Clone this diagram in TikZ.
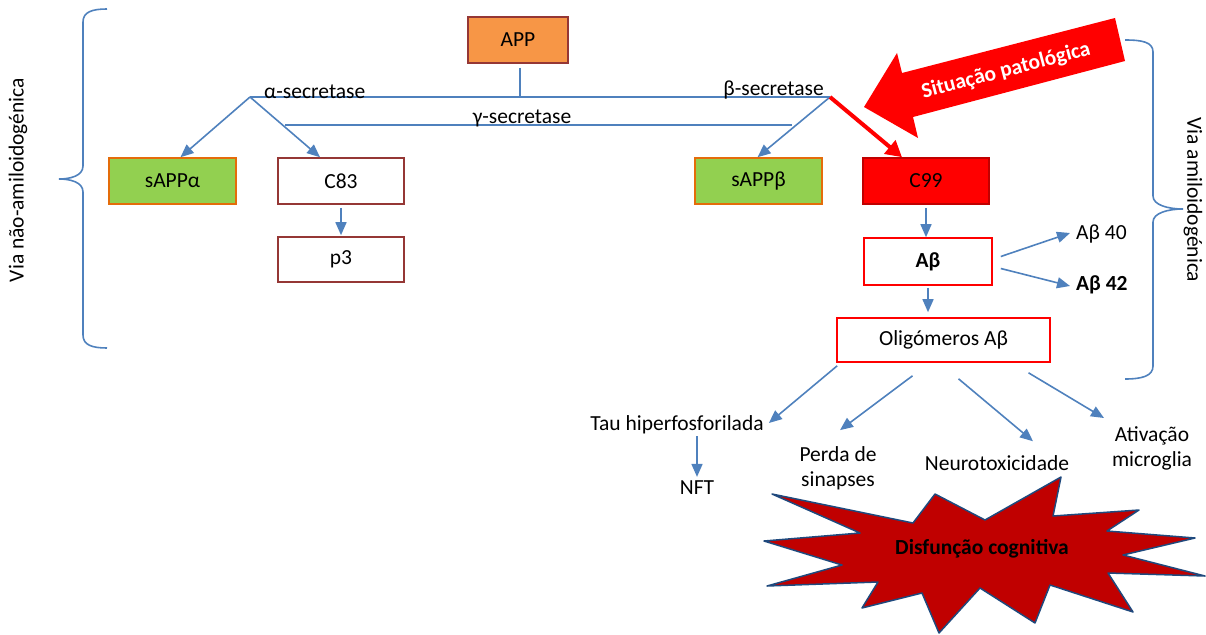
\documentclass[tikz,border=0pt]{standalone}
\usepackage{fontspec}
\setmainfont{Carlito}
\usetikzlibrary{arrows.meta,positioning}
\definecolor{lineColor}{HTML}{4F81BD}
\definecolor{boxBorder}{HTML}{953735}
\definecolor{appFill}{HTML}{F79646}
\definecolor{greenFill}{HTML}{92D050}
\definecolor{greenBorder}{HTML}{E46C0A}
\definecolor{starFill}{HTML}{C00000}
\definecolor{starBorder}{HTML}{1F497D}
\tikzset{>={Triangle[length=13pt,width=11pt]}}
\tikzset{
  box/.style={draw=boxBorder, line width=1.6pt, minimum width=126pt, minimum height=46pt, inner sep=0pt},
  greenbox/.style={box, draw=greenBorder, fill=greenFill},
  redbox/.style={box, draw=red},
  plain/.style={inner sep=2pt, align=center},
  line/.style={draw=lineColor, line width=1.6pt},
  flow/.style={line, ->},
  bold/.style={font=\fontsize{21.5}{25}\selectfont\bfseries},
}

\begin{document}
\begin{tikzpicture}[x=1pt, y=-1pt, font=\fontsize{21.5}{25}\selectfont]
\useasboundingbox (0,0) rectangle (1206,634);
% boxes
\node[box, fill=appFill, minimum width=100pt] (APP) at (518,40) {APP};
\node[greenbox, minimum width=127pt] (sAPPa) at (172.5,181) {sAPPα};
\node[box] (C83) at (341,181) {C83};
\node[box, minimum height=45pt] (p3) at (341,259.5) {p3};
\node[greenbox, minimum width=127pt] (sAPPb) at (758.5,181) {sAPPβ};
\node[box, fill=red, draw=starFill, text=black] (C99) at (926,181) {C99};
\node[redbox, bold, minimum width=128pt, minimum height=47pt] (Abeta) at (928,261.5) {Aβ};
\node[redbox, minimum width=213pt, minimum height=44pt] (Olig) at (943.5,340) {Oligómeros Aβ};
% secretase lines
\coordinate (alpha) at (250,97);
\coordinate (beta) at (830,97);
\coordinate (appfoot) at (520,97);
\coordinate (gammaL) at (285,125);
\coordinate (gammaR) at (792,125);
\draw[line] ([xshift=2pt,yshift=-4pt]APP.south) -- (appfoot);
\draw[line] (alpha) -- (beta);
\draw[line] (gammaL) -- (gammaR);
\node[plain, anchor=south west] (alab) at (262,101) {α-secretase};
\node[plain, anchor=south] (glab) at (522,129) {γ-secretase};
\node[plain, anchor=south east] (blab) at (826,101) {β-secretase};
\draw[flow] (alpha) -- ([xshift=8pt]sAPPa.north);
\draw[flow] (alpha) -- ([xshift=-21pt]C83.north);
\draw[flow] ([yshift=-3pt]C83.south) -- ([yshift=1pt]p3.north);
\draw[flow] (beta) -- ([xshift=-1pt]sAPPb.north);
\draw[red, line width=4pt, -{Triangle[length=16pt,width=17pt]}] (beta) -- ([xshift=-24pt]C99.north);
% amyloid cascade
\node[plain, anchor=west] (ab40) at (1074,234) {Aβ 40};
\node[plain, bold, anchor=west] (ab42) at (1074,285) {Aβ 42};
\draw[flow] ([yshift=-3pt]C99.south) -- ([xshift=-2pt]Abeta.north);
\draw[flow] ([xshift=8pt,yshift=5pt]Abeta.east) -- ([xshift=-4pt,yshift=1pt]ab40.west);
\draw[flow] ([xshift=8pt,yshift=-7pt]Abeta.east) -- ([xshift=-4pt,yshift=-1pt]ab42.west);
\draw[flow] ([yshift=-2pt]Abeta.south) -- ([xshift=-15.5pt,yshift=5pt]Olig.north);
% consequences
\node[plain] (tau) at (677,425) {Tau hiperfosforilada};
\node[plain] (NFT) at (697,488) {NFT};
\node[plain] (perda) at (838,468) {Perda de\\sinapses};
\node[plain] (neuro) at (997,463) {Neurotoxicidade};
\node[plain] (ativ) at (1152,448) {Ativação\\microglia};
\draw[flow] ([xshift=1pt,yshift=-3pt]Olig.south west) -- ([xshift=3pt,yshift=2pt]tau.east);
\draw[flow] ([xshift=-31pt,yshift=-13pt]Olig.south) -- ([xshift=2pt,yshift=14pt]perda.north);
\draw[flow] ([xshift=15pt,yshift=-16pt]Olig.south) -- ([xshift=36pt,yshift=12pt]neuro.north);
\draw[flow] ([xshift=85pt,yshift=-10pt]Olig.south) -- ([xshift=-48pt,yshift=6pt]ativ.north);
\draw[flow] (tau.south -| NFT.north) -- ([yshift=2pt]NFT.north);
% starburst
\fill[starFill, draw=starBorder, line width=1.5pt, line join=round]
  (772,494) -- (913,523) -- (935,494) -- (985,520) -- (1061,477) -- (1053,516)
  -- (1139,510) -- (1107,531) -- (1195,538) -- (1123,555) -- (1205,576) -- (1108,573)
  -- (1133,612) -- (1050,585) -- (1035,623) -- (980,588) -- (939,633) -- (922,593)
  -- (862,608) -- (878,582) -- (767,586) -- (842,565) -- (764,541) -- (860,533) -- cycle;
\node[plain, bold] (burst) at (982,549) {Disfunção cognitiva};
% pathological arrow
\fill[red] (864,107) -- (897,53) -- (902,73) -- (1115,18) -- (1125,61) -- (913,117) -- (918,138) -- cycle;
\node[plain, bold, rotate=14.7, text=white] (patho) at (1006,71) {Situação patológica};
% braces
\draw[line] (107,9) .. controls (92,9) and (83,12) .. (83,22) -- (83,166)
  .. controls (83,176) and (70,179) .. (59,179) .. controls (70,179) and (83,182) .. (83,192)
  -- (83,335) .. controls (83,345) and (92,348) .. (107,348);
\draw[line] (1125,40) .. controls (1142,40) and (1153,42) .. (1153,52) -- (1153,196)
  .. controls (1153,205) and (1168,209) .. (1183,209) .. controls (1168,209) and (1153,213) .. (1153,222)
  -- (1153,366) .. controls (1153,376) and (1142,379) .. (1125,379);
\node[plain, rotate=90] (nonamy) at (18,180) {Via não-amiloidogénica};
\node[plain, rotate=-90] (amy) at (1193,200) {Via amiloidogénica};
\end{tikzpicture}
\end{document}
